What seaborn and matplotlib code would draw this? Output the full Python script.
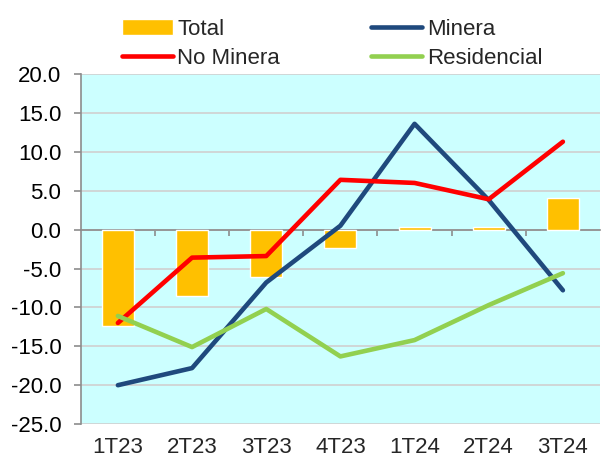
import numpy as np
import pandas as pd
import matplotlib
matplotlib.use("Agg")
import matplotlib.pyplot as plt
import seaborn as sns
from matplotlib.ticker import MultipleLocator, FixedLocator, NullFormatter

categories = ["1T23", "2T23", "3T23", "4T23", "1T24", "2T24", "3T24"]
total = [-12.4, -8.5, -6.1, -2.3, 0.3, 0.3, 4.1]
minera = [-20.0, -17.8, -6.8, 0.5, 13.6, 3.8, -7.8]
no_minera = [-12.0, -3.6, -3.4, 6.4, 6.0, 3.9, 11.3]
residencial = [-11.1, -15.1, -10.2, -16.3, -14.2, -9.7, -5.6]

sns.set_theme(style="white")
plt.rcParams['font.family'] = ['Liberation Sans', 'DejaVu Sans']

fig = plt.figure(figsize=(6.03, 4.57), dpi=100)
ax = fig.add_axes([0.134, 0.072, 0.861, 0.766])
ax.set_facecolor("#CCFFFF")

df = pd.DataFrame({"cat": categories, "Total": total, "Minera": minera,
                   "No Minera": no_minera, "Residencial": residencial})
df["pos"] = np.arange(len(categories))

sns.barplot(data=df, x="cat", y="Total", color="#FFC000", width=0.43,
            saturation=1, ax=ax, label="Total", zorder=2)
line_colors = {"Minera": "#1F497D", "No Minera": "#FF0000", "Residencial": "#92D050"}
for name in ["Minera", "No Minera", "Residencial"]:
    sns.lineplot(data=df, x="pos", y=name, color=line_colors[name], lw=3.3,
                 ax=ax, label=name, zorder=3)

ax.set_xlim(-0.5, 6.5)
ax.set_ylim(-25, 20)
ax.yaxis.set_major_locator(MultipleLocator(5))
ax.yaxis.set_major_formatter(matplotlib.ticker.FormatStrFormatter("%.1f"))
ax.grid(axis="y", color="#D0D0D0", lw=1.2, zorder=0)
ax.set_axisbelow(True)
ax.set_xlabel("")
ax.set_ylabel("")

for s in ["top", "right"]:
    ax.spines[s].set_visible(False)
ax.spines["left"].set_color("#8C8C8C")
ax.spines["left"].set_linewidth(1.2)
ax.spines["bottom"].set_position(("data", 0))
ax.spines["bottom"].set_color("#8C8C8C")
ax.spines["bottom"].set_linewidth(1.2)
ax.spines["bottom"].set_zorder(1)

ax.tick_params(axis="y", length=5, color="#8C8C8C", width=1.2, labelsize=16,
               labelcolor="black", left=True, pad=9)
ax.xaxis.set_major_formatter(NullFormatter())
ax.tick_params(axis="x", which="major", length=0)
ax.xaxis.set_minor_locator(FixedLocator(np.arange(0.5, 6.5, 1.0)))
ax.tick_params(axis="x", which="minor", length=4, color="#8C8C8C", width=1.2,
               bottom=True, direction="out")

sec = ax.secondary_xaxis(0.0)
sec.set_xticks(range(len(categories)))
sec.set_xticklabels(categories)
sec.tick_params(length=0, labelsize=16, pad=9)
sec.spines["bottom"].set_visible(False)

h, l = ax.get_legend_handles_labels()
d = dict(zip(l, h))
order = ["Total", "No Minera", "Minera", "Residencial"]
ax.legend([d[k] for k in order], order, ncol=2, frameon=False, fontsize=16,
          loc="lower left", bbox_to_anchor=(0.062, 0.99), handlelength=2.3,
          handletextpad=0.2, columnspacing=4.1, labelspacing=0.35,
          borderaxespad=0.0)

fig.savefig("out.png", dpi=100)
